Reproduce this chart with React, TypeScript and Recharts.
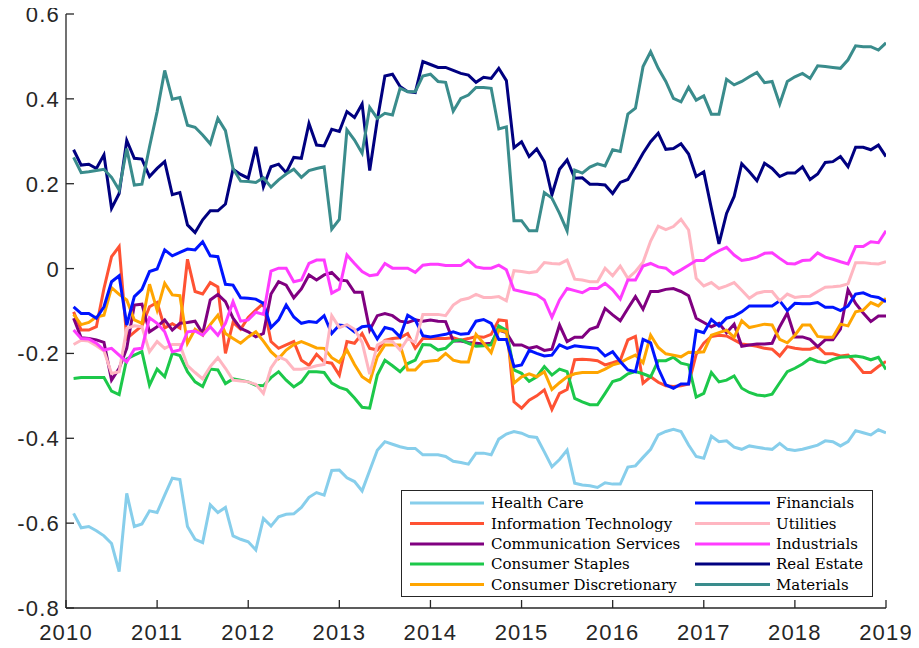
import React from "react";
import { LineChart, Line, XAxis, YAxis } from "recharts";

// monthly observations, Feb 2010 .. Jan 2019
const monthIndex = Array.from({ length: 108 }, (_, i) => i + 1);

const healthCare = [
  -0.577, -0.611, -0.608, -0.618, -0.63, -0.648, -0.714, -0.53, -0.608, -0.602,
  -0.571, -0.575, -0.534, -0.494, -0.497, -0.608, -0.638, -0.646, -0.557, -0.575,
  -0.563, -0.63, -0.638, -0.644, -0.663, -0.589, -0.607, -0.585, -0.579, -0.578,
  -0.563, -0.539, -0.528, -0.534, -0.476, -0.475, -0.493, -0.502, -0.524, -0.476,
  -0.428, -0.408, -0.414, -0.42, -0.424, -0.424, -0.439, -0.439, -0.439, -0.443,
  -0.454, -0.457, -0.461, -0.435, -0.435, -0.439, -0.402, -0.39, -0.384, -0.388,
  -0.396, -0.398, -0.432, -0.467, -0.45, -0.428, -0.506, -0.51, -0.512, -0.516,
  -0.505, -0.508, -0.508, -0.468, -0.465, -0.445, -0.426, -0.392, -0.384, -0.379,
  -0.384, -0.416, -0.443, -0.447, -0.395, -0.408, -0.406, -0.421, -0.426, -0.418,
  -0.421, -0.424, -0.426, -0.412, -0.426, -0.429, -0.426, -0.421, -0.416, -0.406,
  -0.408, -0.418, -0.408, -0.382, -0.387, -0.392, -0.38, -0.387,
];

const infoTech = [
  -0.102, -0.145, -0.145, -0.137, -0.047, 0.028, 0.052, -0.165, -0.15, -0.135,
  -0.09, -0.08, -0.14, -0.13, -0.14, 0.022, -0.054, -0.06, -0.033, -0.043,
  -0.2, -0.127, -0.143, -0.115, -0.098, -0.082, -0.172, -0.188, -0.18, -0.172,
  -0.216, -0.228, -0.202, -0.22, -0.223, -0.251, -0.172, -0.176, -0.153, -0.188,
  -0.192, -0.169, -0.165, -0.163, -0.153, -0.188, -0.165, -0.165, -0.165, -0.165,
  -0.163, -0.169, -0.165, -0.16, -0.162, -0.155, -0.121, -0.123, -0.314, -0.329,
  -0.31, -0.3, -0.286, -0.332, -0.294, -0.285, -0.215, -0.214, -0.215, -0.217,
  -0.227, -0.222, -0.216, -0.168, -0.16, -0.27, -0.255, -0.268, -0.276, -0.278,
  -0.276, -0.272, -0.202, -0.176, -0.16, -0.157, -0.159, -0.168, -0.178, -0.18,
  -0.183, -0.188, -0.19, -0.206, -0.184, -0.188, -0.19, -0.19, -0.184, -0.201,
  -0.201, -0.206, -0.204, -0.223, -0.245, -0.245, -0.231, -0.219,
];

const commServices = [
  -0.117, -0.163, -0.165, -0.168, -0.174, -0.263, -0.235, -0.188, -0.086, -0.084,
  -0.149, -0.137, -0.121, -0.145, -0.129, -0.127, -0.124, -0.153, -0.074, -0.061,
  -0.078, -0.117, -0.141, -0.149, -0.161, -0.153, -0.06, -0.031, -0.039, -0.069,
  -0.048, -0.015, -0.027, -0.015, -0.009, -0.027, -0.029, -0.056, -0.056, -0.145,
  -0.111, -0.106, -0.111, -0.124, -0.127, -0.121, -0.124, -0.121, -0.124, -0.125,
  -0.171, -0.171, -0.174, -0.176, -0.178, -0.176, -0.145, -0.151, -0.18, -0.18,
  -0.188, -0.184, -0.193, -0.19, -0.133, -0.172, -0.162, -0.162, -0.143, -0.137,
  -0.094, -0.109, -0.123, -0.094, -0.066, -0.096, -0.054, -0.054, -0.049, -0.047,
  -0.054, -0.064, -0.117, -0.127, -0.137, -0.129, -0.151, -0.131, -0.183, -0.18,
  -0.178, -0.178, -0.176, -0.137, -0.105, -0.161, -0.161, -0.167, -0.184, -0.168,
  -0.168, -0.143, -0.05, -0.082, -0.105, -0.125, -0.112, -0.112,
];

const consumerStaples = [
  -0.259, -0.257, -0.257, -0.257, -0.257, -0.289, -0.297, -0.213, -0.204, -0.196,
  -0.275, -0.237, -0.255, -0.2, -0.205, -0.243, -0.267, -0.278, -0.237, -0.239,
  -0.271, -0.26, -0.263, -0.267, -0.275, -0.276, -0.257, -0.243, -0.263, -0.279,
  -0.267, -0.243, -0.243, -0.245, -0.27, -0.28, -0.286, -0.305, -0.327, -0.329,
  -0.251, -0.216, -0.229, -0.243, -0.224, -0.216, -0.179, -0.18, -0.192, -0.188,
  -0.171, -0.168, -0.176, -0.183, -0.182, -0.18, -0.135, -0.145, -0.239, -0.247,
  -0.266, -0.255, -0.231, -0.251, -0.237, -0.243, -0.306, -0.314, -0.321, -0.321,
  -0.294, -0.266, -0.261, -0.248, -0.243, -0.248, -0.255, -0.217, -0.217, -0.209,
  -0.223, -0.227, -0.303, -0.294, -0.245, -0.267, -0.263, -0.253, -0.282, -0.292,
  -0.298, -0.3, -0.296, -0.269, -0.243, -0.235, -0.225, -0.212, -0.219, -0.222,
  -0.214, -0.209, -0.208, -0.206, -0.209, -0.215, -0.209, -0.238,
];

const consumerDisc = [
  -0.108, -0.132, -0.127, -0.114, -0.11, -0.045, -0.061, -0.074, -0.121, -0.129,
  -0.037, -0.098, -0.035, -0.062, -0.064, -0.176, -0.143, -0.157, -0.132, -0.11,
  -0.153, -0.165, -0.176, -0.161, -0.149, -0.171, -0.196, -0.212, -0.192, -0.179,
  -0.172, -0.179, -0.187, -0.188, -0.21, -0.221, -0.192, -0.226, -0.255, -0.267,
  -0.208, -0.18, -0.18, -0.18, -0.239, -0.239, -0.22, -0.218, -0.216, -0.2,
  -0.216, -0.22, -0.22, -0.155, -0.176, -0.198, -0.145, -0.149, -0.27, -0.255,
  -0.248, -0.255, -0.243, -0.285, -0.269, -0.255, -0.248, -0.245, -0.245, -0.245,
  -0.237, -0.227, -0.222, -0.212, -0.204, -0.222, -0.157, -0.186, -0.201, -0.204,
  -0.208, -0.197, -0.198, -0.196, -0.157, -0.151, -0.145, -0.162, -0.123, -0.139,
  -0.135, -0.131, -0.133, -0.167, -0.175, -0.157, -0.133, -0.133, -0.16, -0.162,
  -0.162, -0.131, -0.135, -0.102, -0.098, -0.08, -0.088, -0.07,
];

const financials = [
  -0.09, -0.106, -0.106, -0.117, -0.09, -0.031, -0.017, -0.133, -0.066, -0.049,
  -0.007, -0.001, 0.044, 0.03, 0.038, 0.046, 0.044, 0.063, 0.03, 0.028,
  -0.037, -0.039, -0.069, -0.07, -0.072, -0.082, -0.139, -0.121, -0.086, -0.114,
  -0.129, -0.125, -0.127, -0.111, -0.153, -0.133, -0.135, -0.149, -0.137, -0.135,
  -0.166, -0.139, -0.143, -0.161, -0.11, -0.121, -0.158, -0.161, -0.158, -0.155,
  -0.149, -0.155, -0.153, -0.124, -0.12, -0.129, -0.167, -0.167, -0.231, -0.227,
  -0.193, -0.2, -0.206, -0.204, -0.18, -0.188, -0.182, -0.184, -0.186, -0.188,
  -0.206, -0.196, -0.219, -0.239, -0.243, -0.167, -0.175, -0.235, -0.274, -0.282,
  -0.272, -0.272, -0.146, -0.151, -0.12, -0.135, -0.117, -0.112, -0.102, -0.088,
  -0.088, -0.088, -0.088, -0.076, -0.099, -0.082, -0.083, -0.083, -0.08, -0.091,
  -0.091, -0.099, -0.088, -0.06, -0.057, -0.065, -0.068, -0.078,
];

const utilities = [
  -0.179, -0.169, -0.171, -0.182, -0.194, -0.247, -0.243, -0.141, -0.135, -0.137,
  -0.196, -0.172, -0.188, -0.179, -0.179, -0.229, -0.245, -0.26, -0.231, -0.21,
  -0.235, -0.263, -0.265, -0.267, -0.273, -0.294, -0.234, -0.208, -0.216, -0.237,
  -0.237, -0.234, -0.229, -0.226, -0.111, -0.139, -0.132, -0.143, -0.174, -0.249,
  -0.18, -0.171, -0.172, -0.192, -0.165, -0.174, -0.108, -0.108, -0.108, -0.111,
  -0.086, -0.074, -0.07, -0.061, -0.068, -0.068, -0.066, -0.076, -0.005, -0.007,
  -0.01, -0.007, 0.014, 0.012, 0.011, 0.02, -0.025, -0.027, -0.031, -0.031,
  0.001, -0.017, 0.006, -0.023, -0.007, 0.015, 0.065, 0.1, 0.092, 0.099,
  0.116, 0.091, -0.023, -0.041, -0.033, -0.047, -0.041, -0.033, -0.051, -0.07,
  -0.058, -0.054, -0.054, -0.076, -0.06, -0.068, -0.066, -0.065, -0.054, -0.044,
  -0.043, -0.041, -0.036, 0.014, 0.014, 0.012, 0.011, 0.016,
];

const industrials = [
  -0.145, -0.165, -0.166, -0.176, -0.192, -0.188, -0.204, -0.22, -0.19, -0.188,
  -0.116, -0.129, -0.149, -0.196, -0.192, -0.149, -0.147, -0.157, -0.137, -0.157,
  -0.129, -0.078, -0.124, -0.121, -0.103, -0.108, -0.006, 0.001, 0.001, -0.031,
  -0.027, 0.012, 0.02, 0.02, -0.058, -0.048, 0.032, 0.012, -0.007, -0.017,
  -0.014, 0.012, 0.001, 0.001, 0.001, -0.009, 0.008, 0.01, 0.01, 0.007,
  0.007, 0.007, 0.02, 0.004, 0.001, 0.001, 0.008, -0.003, -0.05, -0.054,
  -0.058, -0.062, -0.074, -0.115, -0.074, -0.047, -0.052, -0.057, -0.047, -0.047,
  -0.035, -0.05, -0.072, -0.027, -0.027, 0.006, 0.012, 0.004, 0.001, -0.013,
  -0.003, 0.008, 0.019, 0.019, 0.032, 0.042, 0.05, 0.032, 0.019, 0.022,
  0.027, 0.036, 0.037, 0.024, 0.012, 0.011, 0.019, 0.02, 0.037, 0.027,
  0.022, 0.016, 0.011, 0.052, 0.052, 0.063, 0.061, 0.089,
];

const realEstate = [
  0.28, 0.244, 0.246, 0.236, 0.268, 0.142, 0.177, 0.302, 0.26, 0.258,
  0.217, 0.236, 0.252, 0.174, 0.179, 0.103, 0.085, 0.115, 0.136, 0.136,
  0.152, 0.234, 0.222, 0.213, 0.287, 0.193, 0.24, 0.246, 0.226, 0.262,
  0.26, 0.342, 0.291, 0.289, 0.328, 0.323, 0.37, 0.356, 0.388, 0.231,
  0.35, 0.454, 0.458, 0.429, 0.417, 0.415, 0.488, 0.481, 0.474, 0.474,
  0.467, 0.46, 0.456, 0.439, 0.451, 0.448, 0.472, 0.443, 0.285, 0.299,
  0.264, 0.282, 0.252, 0.174, 0.234, 0.256, 0.213, 0.214, 0.199, 0.199,
  0.197, 0.177, 0.203, 0.21, 0.24, 0.272, 0.299, 0.319, 0.281, 0.283,
  0.294, 0.27, 0.217, 0.228, 0.142, 0.058, 0.13, 0.17, 0.247, 0.228,
  0.207, 0.248, 0.236, 0.217, 0.225, 0.225, 0.24, 0.21, 0.223, 0.25,
  0.252, 0.264, 0.24, 0.286, 0.286, 0.28, 0.291, 0.264,
];

const materials = [
  0.262, 0.226, 0.228, 0.231, 0.234, 0.215, 0.185, 0.283, 0.197, 0.199,
  0.287, 0.37, 0.467, 0.399, 0.403, 0.338, 0.333, 0.315, 0.294, 0.354,
  0.325, 0.236, 0.206, 0.205, 0.203, 0.214, 0.192, 0.209, 0.223, 0.234,
  0.215, 0.231, 0.236, 0.24, 0.093, 0.116, 0.327, 0.303, 0.272, 0.38,
  0.354, 0.366, 0.362, 0.425, 0.417, 0.417, 0.454, 0.458, 0.441, 0.439,
  0.371, 0.401, 0.409, 0.427, 0.427, 0.425, 0.329, 0.334, 0.113, 0.113,
  0.089, 0.089, 0.179, 0.166, 0.13, 0.089, 0.232, 0.225, 0.239, 0.247,
  0.242, 0.28, 0.276, 0.364, 0.378, 0.476, 0.511, 0.472, 0.441, 0.401,
  0.393, 0.427, 0.397, 0.407, 0.364, 0.364, 0.446, 0.433, 0.441, 0.452,
  0.462, 0.438, 0.441, 0.388, 0.441, 0.452, 0.46, 0.448, 0.478, 0.476,
  0.474, 0.472, 0.492, 0.525, 0.523, 0.523, 0.515, 0.532,
];

const yearTicks = [2010, 2011, 2012, 2013, 2014, 2015, 2016, 2017, 2018, 2019];
const valueTicks = [-0.8, -0.6, -0.4, -0.2, 0, 0.2, 0.4, 0.6];

const series = [
  { key: "hc", name: "Health Care", color: "#87ceeb", values: healthCare },
  { key: "it", name: "Information Technology", color: "#ff5233", values: infoTech },
  { key: "cs", name: "Communication Services", color: "#800080", values: commServices },
  { key: "st", name: "Consumer Staples", color: "#1cc84a", values: consumerStaples },
  { key: "cd", name: "Consumer Discretionary", color: "#ffa500", values: consumerDisc },
  { key: "fi", name: "Financials", color: "#0015ff", values: financials },
  { key: "ut", name: "Utilities", color: "#ffb6c1", values: utilities },
  { key: "in", name: "Industrials", color: "#ff3cff", values: industrials },
  { key: "re", name: "Real Estate", color: "#000080", values: realEstate },
  { key: "ma", name: "Materials", color: "#3a8c8c", values: materials },
];

const data = monthIndex.map((m, i) => {
  const row: Record<string, number> = { t: 2010 + m / 12 };
  series.forEach((s) => {
    row[s.key] = s.values[i];
  });
  return row;
});

const AXIS = "#262626";
const TOP_PAD = 16;
const PLOT_LEFT = 58;
const PLOT_BOTTOM = 610;
const tickFont = {
  fontFamily: "'Liberation Sans', Arial, sans-serif",
  fontSize: 22,
  letterSpacing: 1.2,
  fill: AXIS,
};

const XTick = (props: any) => {
  const { x, payload } = props;
  return (
    <g>
      <line x1={x} x2={x} y1={PLOT_BOTTOM} y2={PLOT_BOTTOM - 8} stroke={AXIS} strokeWidth={1.3} />
      <text x={x} y={PLOT_BOTTOM + 32} textAnchor="middle" {...tickFont}>
        {payload.value}
      </text>
    </g>
  );
};

const YTick = (props: any) => {
  const { y, payload } = props;
  const v = payload.value;
  const label = Math.abs(v) < 1e-9 ? "0" : v.toFixed(1);
  return (
    <g>
      <line x1={PLOT_LEFT} x2={PLOT_LEFT + 8} y1={y} y2={y} stroke={AXIS} strokeWidth={1.3} />
      <text x={PLOT_LEFT - 6} y={y + 8} textAnchor="end" {...tickFont}>
        {label}
      </text>
    </g>
  );
};

function LegendBox() {
  const rowY = [13, 33.5, 54, 74, 94.5];
  const left = series.slice(0, 5);
  const right = series.slice(5);
  const textStyle = { fontFamily: "'DejaVu Serif', serif", fontSize: 15, fill: "#000" };
  return (
    <svg
      width={472}
      height={107}
      style={{ position: "absolute", left: 393, top: 492, background: "#fff" }}
    >
      <rect x={0.5} y={0.5} width={471} height={106} fill="#fff" stroke={AXIS} strokeWidth={1} />
      {left.map((s, i) => (
        <g key={s.key}>
          <line x1={9} x2={83} y1={rowY[i]} y2={rowY[i]} stroke={s.color} strokeWidth={3} />
          <text x={90} y={rowY[i] + 5} {...textStyle}>
            {s.name}
          </text>
        </g>
      ))}
      {right.map((s, i) => (
        <g key={s.key}>
          <line x1={294} x2={369} y1={rowY[i]} y2={rowY[i]} stroke={s.color} strokeWidth={3} />
          <text x={375} y={rowY[i] + 5} {...textStyle}>
            {s.name}
          </text>
        </g>
      ))}
    </svg>
  );
}

export default function App() {
  return (
    <div style={{ position: "relative", width: 905, height: 650, marginTop: -10 }}>
      <LineChart
        width={905}
        height={650}
        data={data}
        margin={{ top: TOP_PAD, right: 27, left: 0, bottom: 0 }}
      >
        <XAxis
          dataKey="t"
          type="number"
          domain={[2010, 2019]}
          ticks={yearTicks}
          interval={0}
          allowDataOverflow
          height={40}
          tickSize={0}
          tickMargin={0}
          tickLine={false}
          axisLine={{ stroke: AXIS, strokeWidth: 1.3 }}
          tick={XTick}
        />
        <YAxis
          type="number"
          domain={[-0.8, 0.6]}
          ticks={valueTicks}
          interval={0}
          allowDataOverflow
          width={58}
          tickSize={0}
          tickMargin={0}
          tickLine={false}
          axisLine={{ stroke: AXIS, strokeWidth: 1.3 }}
          tick={YTick}
        />
        {series.map((s) => (
          <Line
            key={s.key}
            dataKey={s.key}
            name={s.name}
            stroke={s.color}
            strokeWidth={3}
            dot={false}
            strokeLinejoin="miter"
            isAnimationActive={false}
          />
        ))}
      </LineChart>
      <LegendBox />
    </div>
  );
}
